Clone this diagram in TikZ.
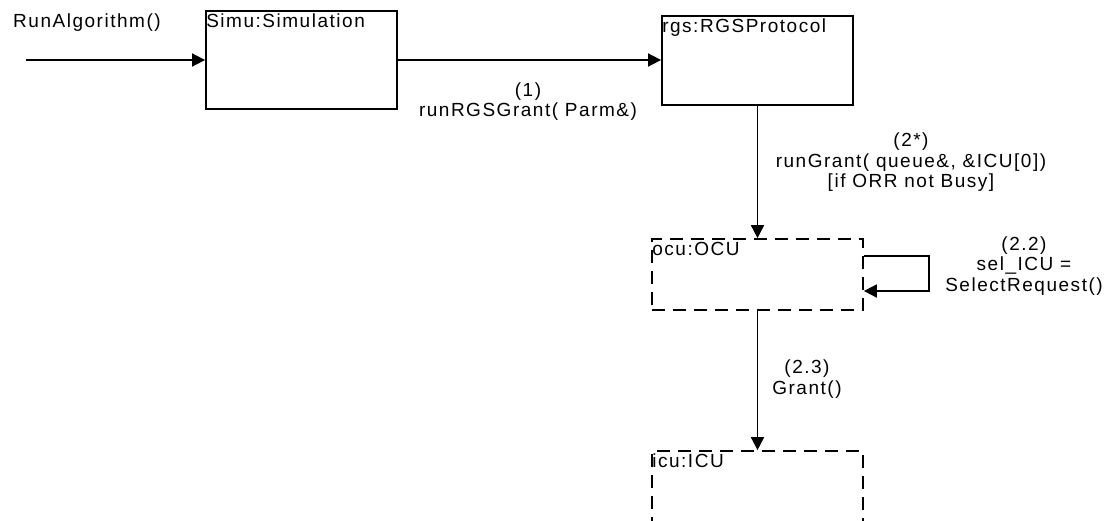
\documentclass[tikz,border=0pt]{standalone}
\usepackage{fontspec}
\setmainfont{Liberation Sans}[LetterSpace=8]
\usetikzlibrary{arrows.meta}
\usetikzlibrary{positioning}
\tikzset{obj/.style = {draw, line width=1.8pt, inner sep=0, minimum width=191pt}}
\tikzset{act/.style = {draw, line width=1.7pt, dash pattern=on 13pt off 8pt, inner sep=0, minimum width=211pt}}
\tikzset{msg/.style = {-{Triangle[length=13pt,width=13pt]}, line width=1.7pt}}
\tikzset{txt/.style = {font=\fontsize{19}{20.5}\selectfont, align=center, inner sep=0}}
\tikzset{objname/.style = {txt, anchor=north west, inner sep=3.5pt, xshift=-2.5pt}}
\begin{document}
\begin{tikzpicture}[x=1pt,y=-1pt]
        \useasboundingbox (0,0) rectangle (1111,520);
        \node[obj, minimum height=98pt] (simu) at (301.5,60) {};
        \node[obj, minimum height=89pt] (rgs) at (757.5,60.5) {};
        \node[act, minimum height=71pt] (ocu) at (757.5,274.5) {};
        \node[act, minimum height=100pt] (icu) at (757.5,501) {};
        \node[objname] (simuname) at (simu.north west) {Simu:Simulation};
        \node[objname] (rgsname) at (rgs.north west) {rgs:RGSProtocol};
        \node[objname] (ocuname) at (ocu.north west) {ocu:OCU};
        \node[objname] (icuname) at (icu.north west) {icu:ICU};
        \coordinate (start) at (26,60);
        \draw [msg] (start) -- (simu.west);
        \draw [msg] (simu.east) -- (simu.east -| rgs.west);
        \draw [msg] (rgs.south) -- (ocu.north);
        \draw [msg] ([yshift=18.5pt]ocu.east) -- ++(65,0) |- ([yshift=-16.5pt]ocu.east);
        \draw [msg] (ocu.south) -- (icu.north);
        \node[txt, anchor=west] (run) at (13,23) {RunAlgorithm()};
        \node[txt] (lbl1) at (528,101.5) {(1)\\runRGSGrant( Parm\&)};
        \node[txt] (lbl2) at (911,162.5) {(2*)\\runGrant( queue\&, \&ICU[0])\\{[if ORR not Busy]}};
        \node[txt] (lbl3) at (1024,266) {(2.2)\\sel\_ICU =\\SelectRequest()};
        \node[txt] (lbl4) at (807,379) {(2.3)\\Grant()};
    \end{tikzpicture}
\end{document}
